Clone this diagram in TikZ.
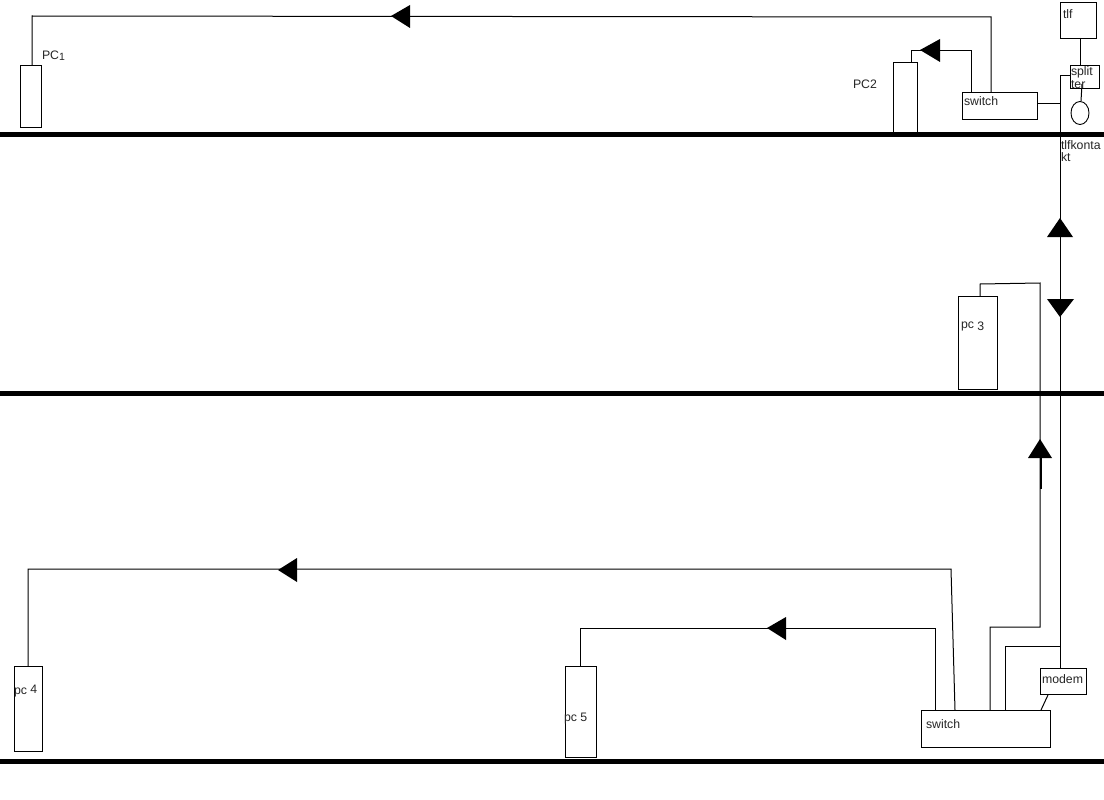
\documentclass[tikz,border=0pt]{standalone}
\usepackage{fontspec}
\setmainfont{Liberation Sans}
\usetikzlibrary{shapes.geometric}
\tikzset{x=1pt,y=-1pt,
  wire/.style={draw=black,line width=1pt,line join=miter},
  floor/.style={draw=black,line width=5pt},
  hw/.style={draw=black,line width=0.9pt,fill=white,inner sep=0pt,outer sep=0pt,rectangle},
  lbl/.style={anchor=west,inner sep=0pt,outer sep=0pt,font=\fontsize{12.3}{13}\selectfont,text=black!85},
  tip/.style={fill=black,draw=none}}
\newcommand{\hwbox}[5]{\node[hw,minimum width=#4-#2,minimum height=#5-#3] (#1) at ({(#2+#4)/2},{(#3+#5)/2}) {};}
\begin{document}
\begin{tikzpicture}
\useasboundingbox (0,0) rectangle (1104,800);
\fill[white] (0,0) rectangle (1104,800);
% floors
\coordinate (fa1) at (0,134.5); \coordinate (fa2) at (1104,134.5);
\coordinate (fb1) at (0,393.5); \coordinate (fb2) at (1104,393.5);
\coordinate (fc1) at (0,761); \coordinate (fc2) at (1104,761);
\draw[floor] (fa1) -- (fa2);
\draw[floor] (fb1) -- (fb2);
\draw[floor] (fc1) -- (fc2);
% boxes
\hwbox{pcone}{20}{65}{41}{127}
\hwbox{pctwo}{893}{62}{917}{132}
\hwbox{swtop}{962}{92}{1037}{119}
\hwbox{tlf}{1060}{2}{1096}{38}
\hwbox{splitter}{1070}{65}{1099}{88}
\node[hw,ellipse,minimum width=18,minimum height=23] (socket) at (1080,113) {};
\hwbox{pcthree}{958}{296}{997}{389}
\hwbox{pcfour}{14}{666}{42}{751}
\hwbox{pcfive}{565}{666}{596}{757}
\hwbox{swbot}{921}{710}{1050}{747}
\hwbox{modem}{1040}{668}{1086}{694}
% connectors
\draw[wire] (32,65) -- (32,16) -- (991,17) -- (991,92);
\draw[wire] (911,62) -- (911,51) -- (971,51) -- (971,92);
\draw[wire] (swtop.east |- 0,104) -- (1060,104);
\draw[wire] (1070,76) -- (1060,76) -- (1060,668);
\draw[wire] (tlf.south -| 1080,0) -- (1080,65);
\draw[wire] (1082,84) -- (1081,101);
\draw[wire] (980,296) -- (980,284) -- (1040,283) -- (1040,627) -- (990,627) -- (990,710);
\draw[line width=2pt] (1040.5,458) -- (1040.5,489);
\draw[wire] (580,666) -- (580,628) -- (935,628) -- (935,710);
\draw[wire] (28,666) -- (28,569) -- (951,569) -- (955,710);
\draw[wire] (1005,710) -- (1005,646) -- (1060,646);
\draw[wire] (1048,695) -- (1041,710);
% arrowheads
\fill[tip] (391,16) -- (410,5) -- (410,28) -- cycle;
\fill[tip] (920,50) -- (940,39) -- (940,62) -- cycle;
\fill[tip] (1060,218) -- (1047,237) -- (1073,237) -- cycle;
\fill[tip] (1060,317) -- (1047,299) -- (1074,299) -- cycle;
\fill[tip] (1040,439) -- (1028,458) -- (1052,458) -- cycle;
\fill[tip] (278,570) -- (297,558) -- (297,582) -- cycle;
\fill[tip] (767,628) -- (786,617) -- (786,640) -- cycle;
% labels
\node[lbl] (lpcone) at (42,56) {PC\raisebox{-1pt}{\fontsize{10.5}{10}\selectfont 1}};
\node[lbl] (lpctwo) at (853,84) {PC2};
\node[lbl] (lswtop) at (964,101) {switch};
\node[lbl] (ltlf) at (1063,14) {tlf};
\node[lbl] (lsplita) at (1071,72) {split};
\node[lbl] (lsplitb) at (1071,85) {ter};
\node[lbl] (lkonta) at (1061,145) {tlfkonta};
\node[lbl] (lkontb) at (1061,157) {kt};
\node[lbl] (lpcthree) at (961,326) {pc\raisebox{-2pt}{ 3}};
\node[lbl] (lpcfour) at (14,691) {pc\raisebox{1pt}{ 4}};
\node[lbl] (lpcfive) at (564,718.5) {pc 5};
\node[lbl] (lmodem) at (1042,679) {modem};
\node[lbl] (lswbot) at (926,724) {switch};
\end{tikzpicture}
\end{document}
